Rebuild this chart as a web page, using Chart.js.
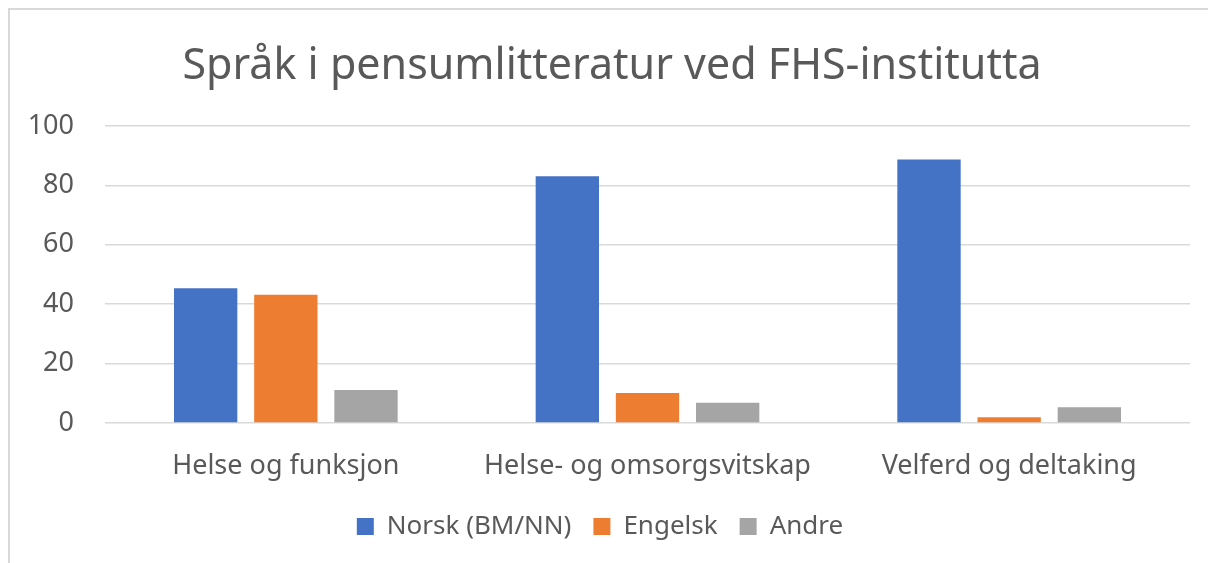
<!DOCTYPE html>
<html>
<head>
<meta charset="utf-8">
<script src="https://cdn.jsdelivr.net/npm/chart.js@4"></script>
<style>
  html, body { margin: 0; padding: 0; background: #fff; overflow: hidden; }
  #frame {
    position: absolute; left: 8px; top: 8px;
    width: 1230px; height: 600px;
    border: 2px solid #d9d9d9;
  }
  #wrap { position: absolute; left: 0; top: 0; width: 1198px; height: 553px; }
</style>
</head>
<body>
<div id="frame"><div id="wrap"><canvas id="myChart"></canvas></div></div>
<script>
const categories = ["Helse og funksjon", "Helse- og omsorgsvitskap", "Velferd og deltaking"];
const norsk = [45.4, 83.1, 88.7];
const engelsk = [43.2, 10.1, 1.9];
const andre = [11.1, 6.8, 5.3];
const yTicks = [0, 20, 40, 60, 80, 100];

const textColor = "#595959";
const fontName = "'Noto Sans', sans-serif";

// nudge the title a bit to the right, like in the original
const titleShift = {
  id: "titleShift",
  afterLayout(chart) {
    if (chart.titleBlock) chart.titleBlock.left += 24;
  }
};

function drawChart(id) {
  const myChart = new Chart(document.getElementById(id), {
    type: "bar",
    data: {
      labels: categories,
      datasets: [
        { label: "Norsk (BM/NN)", data: norsk, backgroundColor: "#4472C4" },
        { label: "Engelsk", data: engelsk, backgroundColor: "#ED7D31" },
        { label: "Andre", data: andre, backgroundColor: "#A5A5A5" }
      ]
    },
    options: {
      responsive: true,
      maintainAspectRatio: false,
      animation: false,
      borderWidth: 0,
      datasets: {
        bar: { barPercentage: 0.79, categoryPercentage: 0.665 }
      },
      layout: { padding: { left: 0, right: 18, top: 0, bottom: 13.5 } },
      plugins: {
        title: {
          display: true,
          text: "Språk i pensumlitteratur ved FHS-institutta",
          color: textColor,
          font: { family: fontName, size: 43, weight: "normal" },
          padding: { top: 31, bottom: 33.4 }
        },
        legend: {
          position: "bottom",
          labels: {
            color: textColor,
            font: { family: fontName, size: 26 },
            boxWidth: 17,
            boxHeight: 17,
            padding: 22
          }
        },
        tooltip: { enabled: false }
      },
      scales: {
        x: {
          grid: { display: false, drawTicks: false },
          border: { display: false },
          ticks: {
            color: textColor,
            font: { family: fontName, size: 27 },
            padding: 27
          },
          afterFit: s => { s.height = 68.5; }
        },
        y: {
          min: 0,
          max: 100,
          afterBuildTicks: s => { s.ticks = yTicks.map(v => ({ value: v })); },
          grid: { color: "#d9d9d9", lineWidth: 1.5, drawTicks: false },
          border: { display: false },
          ticks: {
            color: textColor,
            font: { family: fontName, size: 27 },
            padding: 31
          },
          afterFit: s => { s.width = 95; }
        }
      }
    },
    plugins: [titleShift]
  });
}

window.onload = function () {
  drawChart("myChart");
};
</script>
</body>
</html>
